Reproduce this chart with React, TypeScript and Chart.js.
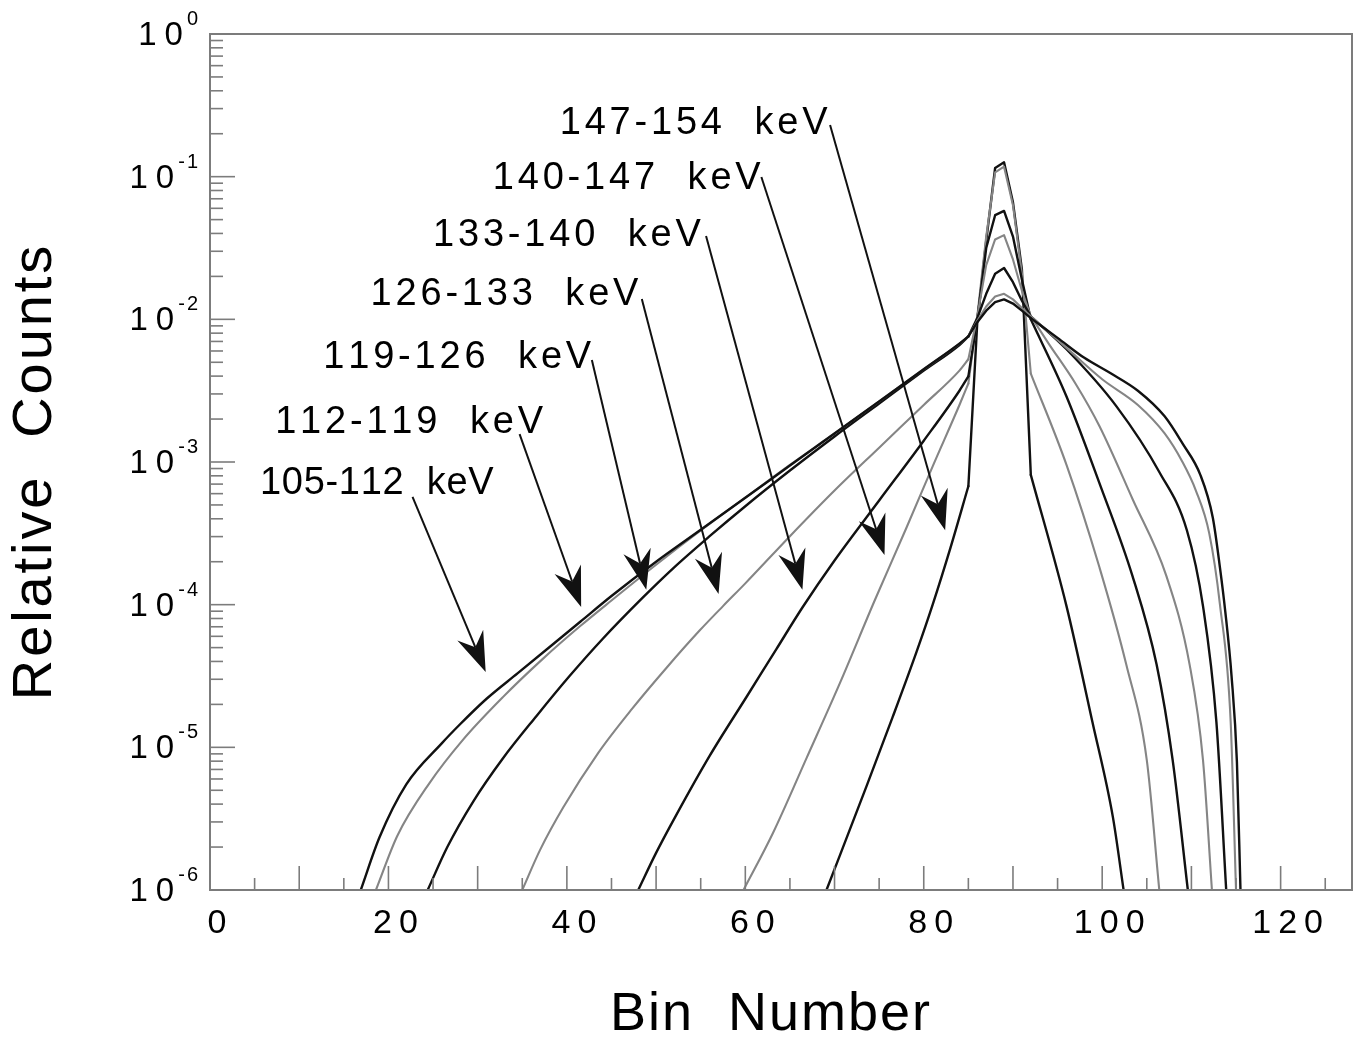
import { useEffect, useRef } from "react";
import { Chart, registerables } from "chart.js";

Chart.register(...registerables);

// ---- series (energy windows) ----
const windowLabels = ["105-112 keV", "112-119 keV", "119-126 keV", "126-133 keV", "133-140 keV", "140-147 keV", "147-154 keV"];

const bins105 = [16.9, 19, 22, 26, 28, 31, 34.5, 38, 41.5, 45, 50, 55, 60, 65, 70, 75, 80, 84, 85, 86, 87, 88, 89, 90, 91, 92, 95, 98, 101, 104, 107, 109, 111, 112.4, 113.2, 113.8, 114.5, 115.1, 115.5];
const counts105 = [1.0e-6, 2.34e-6, 5.50e-6, 1.07e-5, 1.445e-5, 2.19e-5, 3.31e-5, 5.01e-5, 7.59e-5, 1.15e-4, 2.0e-4, 3.35e-4, 5.62e-4, 9.44e-4, 1.585e-3, 2.66e-3, 4.47e-3, 6.76e-3, 7.59e-3, 9.55e-3, 1.15e-2, 1.32e-2, 1.38e-2, 1.29e-2, 1.15e-2, 1.02e-2, 7.41e-3, 5.37e-3, 4.17e-3, 3.16e-3, 2.09e-3, 1.35e-3, 8.13e-4, 4.07e-4, 1.82e-4, 8.91e-5, 3.16e-5, 7.94e-6, 1.0e-6];

const bins112 = [18.6, 21, 24.6, 28.3, 32.8, 37.3, 41.5, 45, 50, 55, 60, 65, 70, 75, 80, 84, 85, 86, 87, 88, 89, 90, 91, 92, 96, 100, 104, 107, 109, 110.5, 112, 113.2, 114.4, 115.0];
const counts112 = [1.0e-6, 2.40e-6, 5.62e-6, 1.12e-5, 2.24e-5, 4.17e-5, 7.08e-5, 1.07e-4, 1.905e-4, 3.31e-4, 5.62e-4, 9.55e-4, 1.585e-3, 2.66e-3, 4.47e-3, 6.76e-3, 7.59e-3, 9.77e-3, 1.23e-2, 1.445e-2, 1.51e-2, 1.38e-2, 1.20e-2, 1.05e-2, 6.31e-3, 3.80e-3, 2.51e-3, 1.585e-3, 1.0e-3, 6.31e-4, 3.16e-4, 1.0e-4, 1.51e-5, 1.0e-6];

const bins119 = [24.4, 26.6, 29.5, 32.8, 36.6, 40.3, 44, 48.5, 52, 56, 60, 65, 70, 75, 80, 84, 85, 86, 87, 88, 89, 90, 91, 92, 96, 101.6, 106.4, 109.5, 111.3, 112.8, 113.9];
const counts119 = [1.0e-6, 2.0e-6, 4.17e-6, 8.32e-6, 1.66e-5, 3.16e-5, 5.75e-5, 1.12e-4, 1.82e-4, 3.02e-4, 4.90e-4, 8.71e-4, 1.51e-3, 2.57e-3, 4.37e-3, 6.61e-3, 7.59e-3, 1.02e-2, 1.51e-2, 2.09e-2, 2.29e-2, 1.82e-2, 1.35e-2, 1.05e-2, 6.17e-3, 2.455e-3, 8.51e-4, 3.31e-4, 9.77e-5, 1.51e-5, 1.0e-6];

const bins126 = [35, 37, 39.6, 43.5, 47.3, 51.2, 54.9, 57.5, 60, 65, 70, 75, 80, 84, 85, 86, 87, 88, 89, 90, 91, 92, 94, 97, 99.7, 103.4, 107.2, 109.8, 111.3, 112.3];
const counts126 = [1.0e-6, 1.91e-6, 3.80e-6, 9.12e-6, 1.86e-5, 3.63e-5, 6.61e-5, 9.77e-5, 1.41e-4, 3.02e-4, 6.31e-4, 1.26e-3, 2.51e-3, 4.37e-3, 5.25e-3, 1.05e-2, 2.40e-2, 3.63e-2, 3.89e-2, 2.63e-2, 1.585e-2, 1.05e-2, 6.76e-3, 3.55e-3, 1.78e-3, 5.50e-4, 1.585e-4, 3.80e-5, 8.13e-6, 1.0e-6];

const bins133 = [48, 50, 52.3, 56, 60.2, 63.5, 66.4, 70, 75, 80, 84, 85, 86, 87, 88, 89, 90, 91, 92, 96, 99.7, 103.4, 106.1, 107.9, 109.6];
const counts133 = [1.0e-6, 1.82e-6, 3.39e-6, 8.71e-6, 2.29e-5, 4.90e-5, 9.55e-5, 2.04e-4, 5.37e-4, 1.41e-3, 3.16e-3, 3.98e-3, 1.0e-2, 3.16e-2, 5.37e-2, 5.75e-2, 3.80e-2, 1.905e-2, 1.0e-2, 2.88e-3, 7.08e-4, 1.585e-4, 3.80e-5, 8.13e-6, 1.0e-6];

const bins140 = [59.8, 63.1, 66.9, 70.6, 74.5, 78, 81, 84, 85, 86, 87, 88, 89, 90, 91, 92, 96, 99.7, 102.7, 105, 106.4];
const counts140 = [1.0e-6, 2.51e-6, 8.51e-6, 2.82e-5, 1.07e-4, 3.39e-4, 9.33e-4, 2.51e-3, 3.55e-3, 1.05e-2, 3.80e-2, 1.07e-1, 1.175e-1, 6.31e-2, 2.09e-2, 4.17e-3, 9.55e-4, 1.82e-4, 3.80e-5, 8.13e-6, 1.0e-6];

const bins147 = [69.1, 73.6, 76.5, 79.2, 81, 83, 85, 86, 87, 88, 89, 90, 91, 92, 96, 98.9, 101.2, 102.4];
const counts147 = [1.0e-6, 5.37e-6, 1.62e-5, 4.68e-5, 1.0e-4, 2.51e-4, 6.76e-4, 9.55e-3, 3.55e-2, 1.15e-1, 1.26e-1, 6.61e-2, 2.24e-2, 8.13e-4, 9.77e-5, 1.51e-5, 3.24e-6, 1.0e-6];

// bins where the smooth tails meet the sharp photopeak core
const peakCoreBins = [85, 92];

// ---- axes ----
const xTickValues = [0, 20, 40, 60, 80, 100, 120];
const yTickExponents = [0, -1, -2, -3, -4, -5, -6];
const xAxisTitle = "Bin  Number";
const yAxisTitle = "Relative  Counts";

// ---- annotations (data coordinates) ----
const annotationTexts = ["105-112  keV", "112-119  keV", "119-126  keV", "126-133  keV", "133-140  keV", "140-147  keV", "147-154  keV"];
const textBins = [5.6, 7.3, 12.7, 18.0, 25.0, 31.7, 39.2];
const textCounts = [5.97e-4, 1.60e-3, 4.56e-3, 1.26e-2, 3.27e-2, 8.20e-2, 1.99e-1];
const arrowStartBins = [22.7, 34.7, 42.8, 48.4, 55.6, 61.8, 69.5];
const arrowStartCounts = [5.69e-4, 1.57e-3, 5.19e-3, 1.39e-2, 3.84e-2, 9.95e-2, 2.30e-1];
const arrowTipBins = [30.9, 41.6, 48.9, 57.0, 66.4, 75.6, 82.4];
const arrowTipCounts = [3.37e-5, 9.64e-5, 1.27e-4, 1.19e-4, 1.27e-4, 2.23e-4, 3.33e-4];

const binsList = [bins105, bins112, bins119, bins126, bins133, bins140, bins147];
const countsList = [counts105, counts112, counts119, counts126, counts133, counts140, counts147];

const FONT = '"Liberation Sans", Arial, Helvetica, sans-serif';
const BLACK = "#111111";
const GRAY = "#858585";
const AXIS = "#7c7c7c";

function drawSpaced(ctx: CanvasRenderingContext2D, text: string, x: number, y: number, spacing: number, align: "left" | "center" | "right") {
  const chars = Array.from(text);
  const widths = chars.map((c) => ctx.measureText(c).width);
  const total = widths.reduce((a, b) => a + b, 0) + spacing * (chars.length - 1);
  let cx = align === "left" ? x : align === "center" ? x - total / 2 : x - total;
  const start = cx;
  ctx.textAlign = "left";
  chars.forEach((c, i) => {
    ctx.fillText(c, cx, y);
    cx += widths[i] + spacing;
  });
  return { start, end: start + total };
}

const decorPlugin = {
  id: "decor",
  afterDraw(chart: any) {
    const ctx: CanvasRenderingContext2D = chart.ctx;
    const xs = chart.scales.x;
    const ys = chart.scales.y;
    const { left, right, top, bottom } = chart.chartArea;
    ctx.save();

    // frame
    ctx.strokeStyle = AXIS;
    ctx.lineWidth = 2;
    ctx.strokeRect(left, top, right - left, bottom - top);

    // x ticks (inward)
    ctx.lineWidth = 1.6;
    for (let v = 5; v <= 125; v += 5) {
      const px = xs.getPixelForValue(v);
      const len = v % 10 === 0 ? 24 : 12;
      ctx.beginPath();
      ctx.moveTo(px, bottom);
      ctx.lineTo(px, bottom - len);
      ctx.stroke();
    }
    // y ticks (inward)
    yTickExponents.forEach((e) => {
      const py = ys.getPixelForValue(Math.pow(10, e));
      ctx.beginPath();
      ctx.moveTo(left, py);
      ctx.lineTo(left + 25, py);
      ctx.stroke();
      if (e > -6) {
        for (let m = 2; m <= 9; m++) {
          const pm = ys.getPixelForValue(m * Math.pow(10, e - 1));
          ctx.beginPath();
          ctx.moveTo(left, pm);
          ctx.lineTo(left + 13, pm);
          ctx.stroke();
        }
      }
    });

    // x tick labels
    ctx.fillStyle = "#000";
    ctx.textBaseline = "alphabetic";
    ctx.font = `34px ${FONT}`;
    xTickValues.forEach((v) => {
      const px = xs.getPixelForValue(v);
      drawSpaced(ctx, String(v), px + 7, bottom + 43, 7, "center");
    });

    // y tick labels 10^e
    yTickExponents.forEach((e) => {
      const py = ys.getPixelForValue(Math.pow(10, e));
      ctx.font = `20px ${FONT}`;
      const sup = drawSpaced(ctx, String(e), left - 12, py - 9, 2, "right");
      ctx.font = `33px ${FONT}`;
      drawSpaced(ctx, "10", sup.start - 4, py + 11, 8, "right");
    });

    // axis titles
    ctx.font = `54px ${FONT}`;
    drawSpaced(ctx, xAxisTitle, (left + right) / 2 - 11, 1030, 2, "center");
    ctx.save();
    ctx.translate(36, 473);
    ctx.rotate(-Math.PI / 2);
    ctx.textBaseline = "middle";
    ctx.font = `56px ${FONT}`;
    drawSpaced(ctx, yAxisTitle, 0, 0, 2.9, "center");
    ctx.restore();

    // annotations
    ctx.font = `38px ${FONT}`;
    ctx.textBaseline = "alphabetic";
    annotationTexts.forEach((t, i) => {
      const tx = xs.getPixelForValue(textBins[i]);
      const ty = ys.getPixelForValue(textCounts[i]);
      drawSpaced(ctx, t, tx, ty, i === 0 ? 0.7 : 3.8, "left");

      const sx = xs.getPixelForValue(arrowStartBins[i]);
      const sy = ys.getPixelForValue(arrowStartCounts[i]);
      const ex = xs.getPixelForValue(arrowTipBins[i]);
      const ey = ys.getPixelForValue(arrowTipCounts[i]);
      const len = Math.hypot(ex - sx, ey - sy);
      const dx = (ex - sx) / len;
      const dy = (ey - sy) / len;
      const nx = -dy;
      const ny = dx;
      const headLen = 40;
      const halfW = 14;
      const notch = 27;
      ctx.strokeStyle = BLACK;
      ctx.lineWidth = 2;
      ctx.beginPath();
      ctx.moveTo(sx, sy);
      ctx.lineTo(ex - dx * notch, ey - dy * notch);
      ctx.stroke();
      ctx.fillStyle = BLACK;
      ctx.beginPath();
      ctx.moveTo(ex, ey);
      ctx.lineTo(ex - dx * headLen + nx * halfW, ey - dy * headLen + ny * halfW);
      ctx.lineTo(ex - dx * notch, ey - dy * notch);
      ctx.lineTo(ex - dx * headLen - nx * halfW, ey - dy * headLen - ny * halfW);
      ctx.closePath();
      ctx.fill();
      ctx.fillStyle = "#000";
    });

    ctx.restore();
  },
};

export default function App() {
  const canvasRef = useRef<HTMLCanvasElement | null>(null);

  useEffect(() => {
    if (!canvasRef.current) return;
    const [coreLo, coreHi] = peakCoreBins;
    const datasets: any[] = [];
    windowLabels.forEach((label, i) => {
      const pts = binsList[i].map((b, j) => ({ x: b, y: countsList[i][j] }));
      const color = i % 2 === 0 ? BLACK : GRAY;
      const width = i % 2 === 0 ? 2.4 : 2.1;
      const parts = [
        { data: pts.filter((p) => p.x <= coreLo), smooth: true },
        { data: pts.filter((p) => p.x >= coreLo && p.x <= coreHi), smooth: false },
        { data: pts.filter((p) => p.x >= coreHi), smooth: true },
      ];
      parts.forEach((part) => {
        datasets.push({
          label,
          data: part.data,
          borderColor: color,
          borderWidth: width,
          pointRadius: 0,
          fill: false,
          tension: 0,
          cubicInterpolationMode: part.smooth ? "monotone" : "default",
          borderJoinStyle: "round",
          borderCapStyle: "round",
        });
      });
    });
    const chart = new Chart(canvasRef.current, {
      type: "line",
      data: { datasets },
      options: {
        animation: false,
        responsive: false,
        events: [],
        layout: { padding: { left: 210, right: 8, top: 34, bottom: 148 } },
        scales: {
          x: { type: "linear", min: 0, max: 128, display: false },
          y: { type: "logarithmic", min: 1e-6, max: 1, display: false },
        },
        plugins: { legend: { display: false }, tooltip: { enabled: false } },
      },
      plugins: [decorPlugin],
    });
    return () => chart.destroy();
  }, []);

  return (
    <div style={{ position: "absolute", left: 0, top: 0, width: 1360, height: 1038, background: "#fff" }}>
      <canvas ref={canvasRef} width={1360} height={1038} style={{ display: "block" }} />
    </div>
  );
}
